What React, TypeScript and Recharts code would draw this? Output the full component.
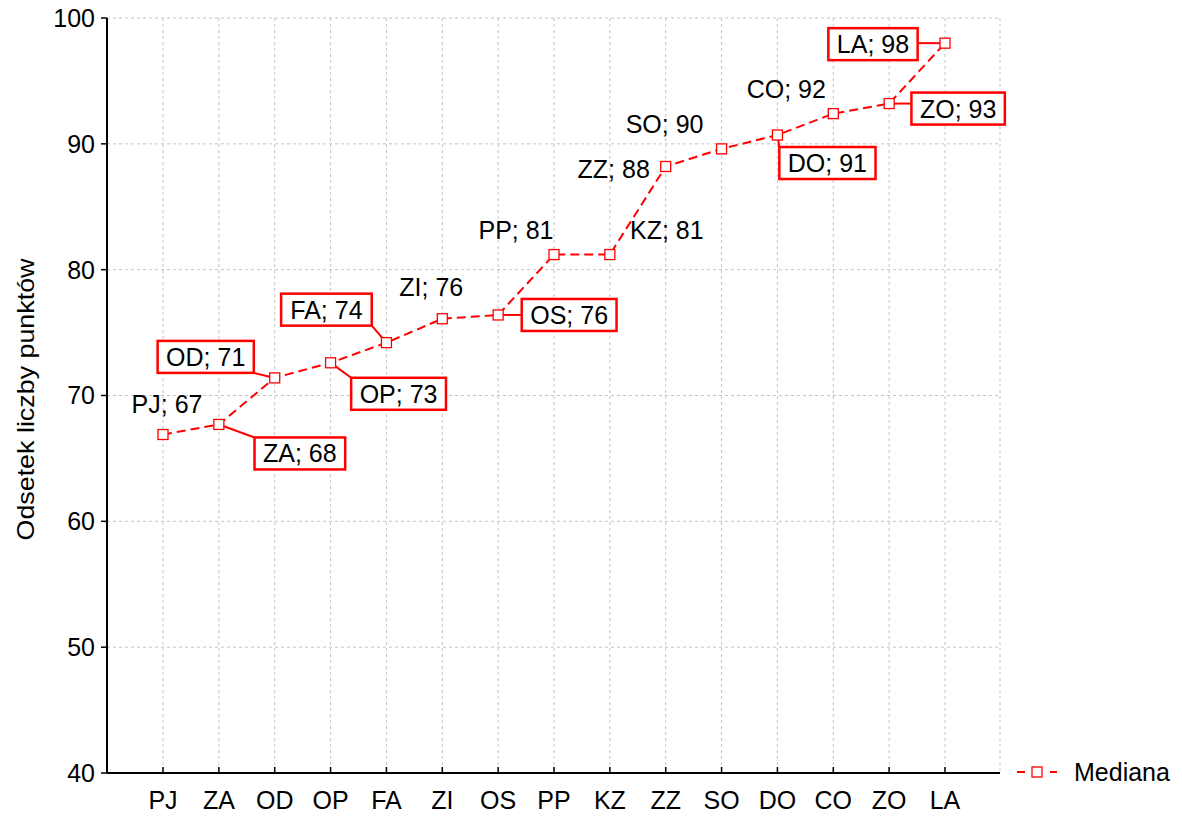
import React from 'react'
import { CartesianGrid, Label, LabelList, Legend, Line, LineChart, XAxis, YAxis } from 'recharts'

const categories = ['PJ', 'ZA', 'OD', 'OP', 'FA', 'ZI', 'OS', 'PP', 'KZ', 'ZZ', 'SO', 'DO', 'CO', 'ZO', 'LA']
const medianValues = [66.9, 67.7, 71.4, 72.6, 74.2, 76.1, 76.4, 81.2, 81.2, 88.2, 89.6, 90.7, 92.4, 93.2, 98.0]
const yTicks = [40, 50, 60, 70, 80, 90, 100]

// where each point label sits relative to its marker, and whether it gets a red box
const labelPlacement = [
  { dx: 4, dy: -31, boxed: false },
  { dx: 81, dy: 29, boxed: true },
  { dx: -69, dy: -21, boxed: true },
  { dx: 68, dy: 31, boxed: true },
  { dx: -60, dy: -33, boxed: true },
  { dx: -11, dy: -32, boxed: false },
  { dx: 71, dy: 0, boxed: true },
  { dx: -38, dy: -25, boxed: false },
  { dx: 57, dy: -25, boxed: false },
  { dx: -52, dy: 3, boxed: false },
  { dx: -57, dy: -25, boxed: false },
  { dx: 50, dy: 28, boxed: true },
  { dx: -47, dy: -25, boxed: false },
  { dx: 69, dy: 5, boxed: true },
  { dx: -72, dy: 1, boxed: true },
]

const data = categories.map((name, i) => ({ name, value: medianValues[i] }))

const FONT = '"Liberation Sans", Arial, sans-serif'
const RED = '#ff0000'
const FS = 25

const glyphWidths: Record<string, number> = {
  P: 0.667, J: 0.5, Z: 0.611, A: 0.667, O: 0.778, D: 0.722, F: 0.611, I: 0.278,
  S: 0.667, K: 0.667, C: 0.722, L: 0.556, ';': 0.278, ' ': 0.278,
}
const textWidth = (s: string) => [...s].reduce((w, ch) => w + (glyphWidths[ch] ?? 0.556) * FS, 0)

function SquareDot(props: any) {
  const { cx, cy } = props
  if (cx == null || cy == null) return null
  return <rect x={cx - 5} y={cy - 5} width={10} height={10} fill="#fff" stroke={RED} strokeWidth={1.3} />
}

function PointLabel(props: any) {
  const { x, y, index } = props
  const p = labelPlacement[index]
  if (!p) return null
  const text = `${categories[index]}; ${Math.round(medianValues[index])}`
  const cx = x + p.dx
  const cy = y + p.dy
  const txt = (
    <text x={cx} y={cy} textAnchor="middle" dominantBaseline="central" fontSize={FS} fontFamily={FONT} fill="#000">
      {text}
    </text>
  )
  if (!p.boxed) return txt
  const w = textWidth(text) + 17
  const h = 32
  const left = cx - w / 2
  const top = cy - h / 2
  // leader goes from marker edge to the nearest point of the box
  const nx = Math.min(Math.max(x, left), left + w)
  const ny = Math.min(Math.max(y, top), top + h)
  const ddx = nx - x
  const ddy = ny - y
  const m = Math.max(Math.abs(ddx), Math.abs(ddy)) || 1
  const sx = x + (ddx / m) * 5
  const sy = y + (ddy / m) * 5
  return (
    <g>
      <line x1={sx} y1={sy} x2={nx} y2={ny} stroke={RED} strokeWidth={2} />
      <rect x={left} y={top} width={w} height={h} fill="#fff" stroke={RED} strokeWidth={2.5} />
      {txt}
    </g>
  )
}

function MedianaLegend(props: any) {
  const item = (props.payload || []).find((e: any) => e.type !== 'none')
  return (
    <svg width={170} height={30} style={{ display: 'block' }}>
      <line x1={7} y1={15} x2={15} y2={15} stroke={RED} strokeWidth={2} />
      <rect x={22} y={10} width={10} height={10} fill="#fff" stroke={RED} strokeWidth={1.3} />
      <line x1={40} y1={15} x2={47} y2={15} stroke={RED} strokeWidth={2} />
      <text x={64} y={15} dominantBaseline="central" fontSize={FS} fontFamily={FONT} fill="#000">
        {item ? item.value : 'Mediana'}
      </text>
    </svg>
  )
}

function YTitle(props: any) {
  const vb = props.viewBox
  if (!vb) return null
  const cx = vb.x - 22
  const cy = vb.y + vb.height / 2 + 4
  return (
    <text
      x={cx}
      y={cy}
      transform={`rotate(-90 ${cx} ${cy})`}
      textAnchor="middle"
      dominantBaseline="central"
      fontSize={24}
      textLength={282}
      lengthAdjust="spacingAndGlyphs"
      fontFamily={FONT}
      fill="#000"
    >
      Odsetek liczby punktów
    </text>
  )
}

export default function App() {
  const tickStyle = { fill: '#000', fontSize: FS, fontFamily: FONT }
  const axisLine = { stroke: '#000', strokeWidth: 2 }
  const tickLine = { stroke: '#000', strokeWidth: 1.5 }
  return (
    <div style={{ position: 'absolute', left: 0, top: 0, fontFamily: FONT }}>
      <LineChart width={1182} height={819} data={data} margin={{ top: 18, right: 182, left: 47, bottom: 16 }}>
        <CartesianGrid stroke="#c4c4c4" strokeDasharray="3 3" />
        <XAxis
          dataKey="name"
          interval={0}
          padding={{ left: 56, right: 55 }}
          height={30}
          tickSize={-6}
          tickMargin={24}
          tick={tickStyle}
          axisLine={axisLine}
          tickLine={tickLine}
        />
        <XAxis
          xAxisId="top"
          orientation="top"
          dataKey="name"
          interval={0}
          padding={{ left: 56, right: 55 }}
          height={0}
          mirror
          tickSize={6}
          tickFormatter={() => ''}
          axisLine={axisLine}
          tickLine={tickLine}
        />
        <YAxis
          domain={[40, 100]}
          ticks={yTicks}
          width={60}
          tickSize={6}
          tickMargin={6}
          tick={tickStyle}
          axisLine={axisLine}
          tickLine={tickLine}
        >
          <Label content={YTitle} />
        </YAxis>
        <YAxis
          yAxisId="right"
          orientation="right"
          domain={[40, 100]}
          ticks={yTicks}
          width={0}
          mirror
          tickSize={6}
          tickFormatter={() => ''}
          axisLine={axisLine}
          tickLine={tickLine}
        />
        <Legend
          layout="vertical"
          align="center"
          verticalAlign="middle"
          content={MedianaLegend}
          wrapperStyle={{ left: 1010, top: 757, width: 170, height: 30 }}
        />
        <Line
          xAxisId="top"
          yAxisId="right"
          dataKey="value"
          stroke="none"
          dot={false}
          activeDot={false}
          legendType="none"
          isAnimationActive={false}
        />
        <Line
          name="Mediana"
          dataKey="value"
          stroke={RED}
          strokeWidth={2}
          strokeDasharray="9 5"
          dot={<SquareDot />}
          activeDot={false}
          isAnimationActive={false}
        >
          <LabelList dataKey="value" content={PointLabel} />
        </Line>
      </LineChart>
    </div>
  )
}
